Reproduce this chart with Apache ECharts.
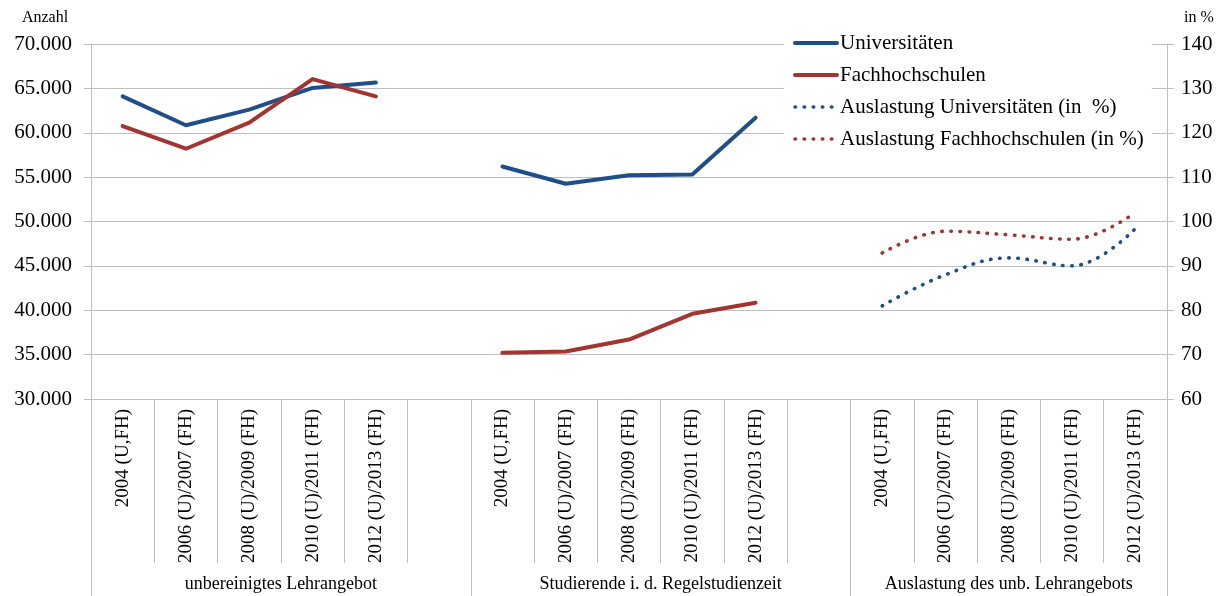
<!DOCTYPE html>
<html lang="de">
<head>
<meta charset="utf-8">
<title>Lehrangebot, Studierende und Auslastung</title>
<script src="https://cdn.jsdelivr.net/npm/echarts@6/dist/echarts.min.js"></script>
<style>
  html, body { margin: 0; padding: 0; background: #fff; }
  #chart { width: 1223px; height: 596px; }
</style>
</head>
<body>
<div id="chart"></div>
<script>
// Period labels, repeated for each of the three blocks
const periodLabels = ['2004 (U,FH)', '2006 (U)/2007 (FH)', '2008 (U)/2009 (FH)', '2010 (U)/2011 (FH)', '2012 (U)/2013 (FH)'];
const groupNames = ['unbereinigtes Lehrangebot', 'Studierende i. d. Regelstudienzeit', 'Auslastung des unb. Lehrangebots'];

// Block 1: unbereinigtes Lehrangebot (Anzahl)
const uniLehrangebot = [64100, 60850, 62600, 65050, 65650];
const fhLehrangebot = [60750, 58200, 61150, 66050, 64100];

// Block 2: Studierende in der Regelstudienzeit (Anzahl)
const uniStudierende = [56200, 54250, 55200, 55300, 61700];
const fhStudierende = [35200, 35350, 36700, 39600, 40850];

// Block 3: Auslastung (in %)
const uniAuslastung = [81.0, 88.0, 91.8, 90.0, 98.4];
const fhAuslastung = [92.9, 97.8, 97.0, 96.0, 102.0];

// Axis ticks
const leftTicks = { min: 30000, max: 70000, step: 5000 };
const rightTicks = { min: 60, max: 140, step: 10 };

// 17 slots: 5 periods, gap, 5 periods, gap, 5 periods
const slotLabels = [...periodLabels, '', ...periodLabels, '', ...periodLabels];
const blockStart = [0, 6, 12];
const blockEdges = [0, 6, 12, 17];
const blockCenters = [3, 9, 14.5];

function placeInBlock(values, block) {
  const arr = slotLabels.map(() => null);
  values.forEach((v, i) => { arr[blockStart[block] + i] = v; });
  return arr;
}
function merge(a, b) { return a.map((v, i) => (v !== null ? v : b[i])); }

const uniCountData = merge(placeInBlock(uniLehrangebot, 0), placeInBlock(uniStudierende, 1));
const fhCountData = merge(placeInBlock(fhLehrangebot, 0), placeInBlock(fhStudierende, 1));
const uniRateData = placeInBlock(uniAuslastung, 2);
const fhRateData = placeInBlock(fhAuslastung, 2);

const BLUE = '#1f4e89';
const RED = '#a23432';
const GRID = '#bfbfbf';
const FONT = 'Liberation Serif';
const DOTS = [0.5, 8.6];

const chart = echarts.init(document.getElementById('chart'), null, { renderer: 'canvas' });

const fmtThousands = v => String(v).replace(/\B(?=(\d{3})+(?!\d))/g, '.');

chart.setOption({
  animation: false,
  backgroundColor: '#fff',
  textStyle: { fontFamily: FONT, color: '#000' },
  grid: { left: 91, right: 56, top: 44, bottom: 197, containLabel: false },
  legend: {
    orient: 'vertical',
    left: 784,
    top: 26,
    padding: [6, 8, 8, 9],
    backgroundColor: '#fff',
    itemWidth: 42,
    itemHeight: 14,
    itemGap: 10,
    selectedMode: false,
    itemStyle: { opacity: 0 },
    lineStyle: { width: 'inherit', type: 'inherit', cap: 'inherit' },
    textStyle: { fontFamily: FONT, fontSize: 21, color: '#000', lineHeight: 22, padding: [0, 0, 0, -2] },
    data: ['Universitäten', 'Fachhochschulen', 'Auslastung Universitäten (in  %)', 'Auslastung Fachhochschulen (in %)']
  },
  xAxis: [
    {
      type: 'category',
      data: slotLabels,
      position: 'bottom',
      boundaryGap: true,
      axisLine: { show: true, lineStyle: { color: GRID, width: 1 } },
      axisTick: { show: true, interval: 0, length: 164, lineStyle: { color: GRID, width: 1 } },
      axisLabel: {
        interval: 0,
        rotate: 90,
        margin: 10,
        fontFamily: FONT,
        fontSize: 19,
        color: '#000'
      },
      splitLine: { show: false }
    },
    {
      type: 'value',
      min: 0,
      max: slotLabels.length,
      position: 'bottom',
      offset: 0,
      axisLine: { show: false },
      splitLine: { show: false },
      axisTick: { show: true, customValues: blockEdges, length: 197, lineStyle: { color: GRID, width: 1 } },
      axisLabel: {
        customValues: blockCenters,
        margin: 176,
        fontFamily: FONT,
        fontSize: 18,
        color: '#000',
        formatter: v => groupNames[blockCenters.indexOf(v)] || ''
      }
    }
  ],
  yAxis: [
    {
      type: 'value',
      position: 'left',
      min: leftTicks.min,
      max: leftTicks.max,
      interval: leftTicks.step,
      name: 'Anzahl',
      nameLocation: 'end',
      nameGap: 18,
      nameTextStyle: { fontFamily: FONT, fontSize: 16, color: '#000', align: 'center', padding: [0, 92, 0, 0] },
      axisLine: { show: true, lineStyle: { color: GRID, width: 1 } },
      axisTick: { show: true, length: 7, lineStyle: { color: GRID } },
      axisLabel: { margin: 19, fontFamily: FONT, fontSize: 21, color: '#000', formatter: fmtThousands },
      splitLine: { show: true, lineStyle: { color: GRID, width: 1 } }
    },
    {
      type: 'value',
      position: 'right',
      min: rightTicks.min,
      max: rightTicks.max,
      interval: rightTicks.step,
      name: 'in %',
      nameLocation: 'end',
      nameGap: 18,
      nameTextStyle: { fontFamily: FONT, fontSize: 16, color: '#000', align: 'center', padding: [0, 0, 0, 64] },
      axisLine: { show: true, lineStyle: { color: GRID, width: 1 } },
      axisTick: { show: true, length: 7, lineStyle: { color: GRID } },
      axisLabel: { margin: 14, fontFamily: FONT, fontSize: 21, color: '#000' },
      splitLine: { show: false }
    }
  ],
  series: [
    {
      name: 'Universitäten',
      type: 'line',
      xAxisIndex: 0,
      yAxisIndex: 0,
      data: uniCountData,
      symbol: 'none',
      connectNulls: false,
      lineStyle: { color: BLUE, width: 4, cap: 'round', join: 'round' },
      itemStyle: { color: BLUE },
      z: 3
    },
    {
      name: 'Fachhochschulen',
      type: 'line',
      xAxisIndex: 0,
      yAxisIndex: 0,
      data: fhCountData,
      symbol: 'none',
      connectNulls: false,
      lineStyle: { color: RED, width: 4, cap: 'round', join: 'round' },
      itemStyle: { color: RED },
      z: 3
    },
    {
      name: 'Auslastung Universitäten (in  %)',
      type: 'line',
      xAxisIndex: 0,
      yAxisIndex: 1,
      data: uniRateData,
      symbol: 'none',
      smooth: 0.4,
      lineStyle: { color: BLUE, width: 3.6, type: DOTS, cap: 'round' },
      itemStyle: { color: BLUE },
      z: 3
    },
    {
      name: 'Auslastung Fachhochschulen (in %)',
      type: 'line',
      xAxisIndex: 0,
      yAxisIndex: 1,
      data: fhRateData,
      symbol: 'none',
      smooth: 0.4,
      lineStyle: { color: RED, width: 3.6, type: DOTS, cap: 'round' },
      itemStyle: { color: RED },
      z: 3
    }
  ]
});
</script>
</body>
</html>
